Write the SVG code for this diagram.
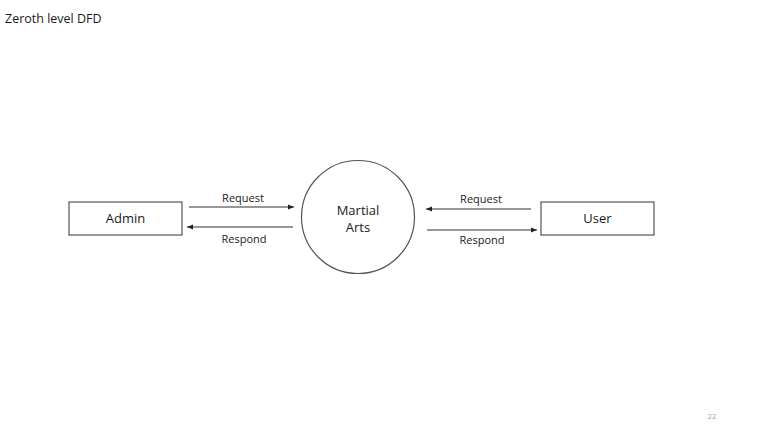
<svg xmlns="http://www.w3.org/2000/svg" width="774" height="433" viewBox="0 0 774 433">
<style>
text{font-family:"Open Sans","Liberation Sans",sans-serif;fill:#1a1a1a}
.box{fill:#fff;stroke:#555;stroke-width:1.2}
.lbl{font-size:11px;text-anchor:middle}
.node{font-size:13px;text-anchor:middle}
.ln{stroke:#333;stroke-width:1.1;fill:none;marker-end:url(#ah)}
</style>
<defs>
<marker id="ah" viewBox="0 0 10 10" refX="10" refY="5" markerWidth="6" markerHeight="6" orient="auto" markerUnits="userSpaceOnUse">
<path d="M0,1 L10,5 L0,9 z" fill="#222"/>
</marker>
</defs>
<rect width="774" height="433" fill="#fff"/>
<text x="5" y="23" style="font-size:12.5px">Zeroth level DFD</text>
<g id="admin">
<rect class="box" x="69" y="202" width="113" height="33"/>
<text class="node" x="125.5" y="223">Admin</text>
</g>
<g id="martial-arts">
<circle cx="358" cy="217" r="56.5" fill="#fff" stroke="#555" stroke-width="1.2"/>
<text class="node" x="358" y="215">Martial</text>
<text class="node" x="358" y="232">Arts</text>
</g>
<g id="user">
<rect class="box" x="541" y="202" width="113" height="33"/>
<text class="node" x="597.5" y="223">User</text>
</g>
<g id="connectors">
<line class="ln" x1="189" y1="207" x2="294" y2="207"/>
<line class="ln" x1="293" y1="227" x2="187" y2="227"/>
<line class="ln" x1="531" y1="209" x2="426" y2="209"/>
<line class="ln" x1="427" y1="230" x2="537" y2="230"/>
<text class="lbl" x="243" y="202">Request</text>
<text class="lbl" x="244" y="243">Respond</text>
<text class="lbl" x="481" y="203">Request</text>
<text class="lbl" x="482" y="244">Respond</text>
</g>
<text x="712" y="419" style="font-size:8px;fill:#aaa" text-anchor="middle">22</text>
</svg>
